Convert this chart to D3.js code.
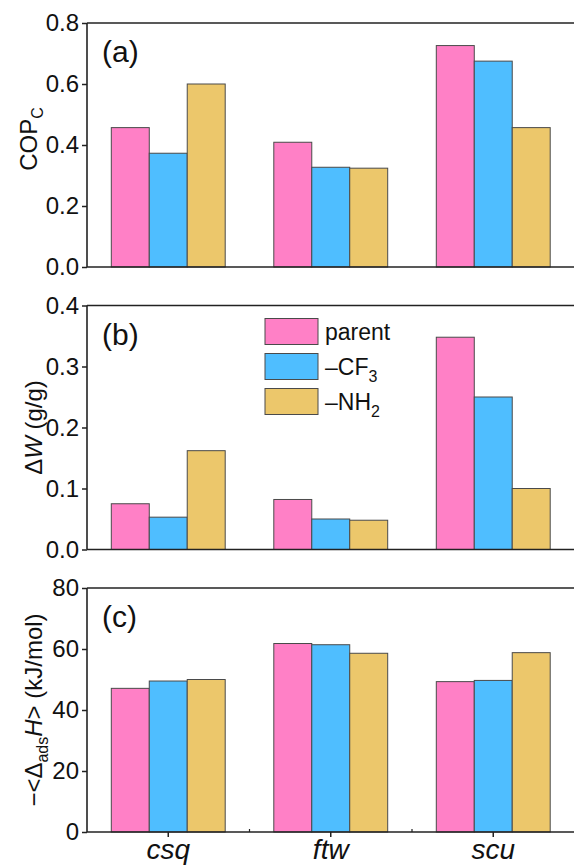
<!DOCTYPE html>
<html>
<head>
<meta charset="utf-8">
<script src="https://cdn.jsdelivr.net/npm/d3@7"></script>
<style>
  html, body { margin: 0; padding: 0; background: #fff; }
  svg { display: block; font-family: "Liberation Sans", Arial, Helvetica, sans-serif; }
</style>
</head>
<body>
<svg id="chart" width="574" height="866"></svg>
<script>
// ---- data ----
const categories = ["csq", "ftw", "scu"];
const seriesNames = ["parent", "CF3", "NH2"];
const colors = ["#FF80C6", "#4FBEFF", "#ECC76B"];

const copParent = [0.457, 0.409, 0.726];
const copCF3    = [0.373, 0.327, 0.675];
const copNH2    = [0.600, 0.324, 0.457];

const dwParent = [0.075, 0.082, 0.348];
const dwCF3    = [0.053, 0.050, 0.250];
const dwNH2    = [0.162, 0.048, 0.100];

const dhParent = [47.1, 61.8, 49.3];
const dhCF3    = [49.5, 61.4, 49.7];
const dhNH2    = [50.0, 58.6, 58.8];

const copTicks = [0, 0.2, 0.4, 0.6, 0.8];
const dwTicks  = [0, 0.1, 0.2, 0.3, 0.4];
const dhTicks  = [0, 20, 40, 60, 80];

// ---- layout ----
const svg = d3.select("#chart");
const left = 87, right = 574.5;
const panelH = 244;
const panelTops = [23, 305.5, 588];
const axisColor = "#222";

const x = d3.scaleBand().domain(categories).range([left, right]).paddingInner(0).paddingOuter(0);
const xs = d3.scaleBand().domain(seriesNames).range([0, x.bandwidth()]).paddingInner(0).paddingOuter(0.64);

const panels = [
  { key: "(a)", data: [copParent, copCF3, copNH2], domain: [0, 0.8], ticks: copTicks, fmt: d3.format(".1f"), labelX: 37, labelShift: -6 },
  { key: "(b)", data: [dwParent, dwCF3, dwNH2], domain: [0, 0.4], ticks: dwTicks, fmt: d3.format(".1f"), labelX: 42, labelShift: 0 },
  { key: "(c)", data: [dhParent, dhCF3, dhNH2], domain: [0, 80], ticks: dhTicks, fmt: d3.format("d"), labelX: 42, labelShift: 0 }
];

panels.forEach((p, pi) => {
  const top = panelTops[pi];
  const y = d3.scaleLinear().domain(p.domain).range([top + panelH, top]);
  const g = svg.append("g");

  // bars
  p.data.forEach((vals, si) => {
    g.selectAll(null)
      .data(vals.map((v, ci) => ({ v, c: categories[ci] })))
      .enter().append("rect")
      .attr("x", d => x(d.c) + xs(seriesNames[si]))
      .attr("y", d => y(d.v))
      .attr("width", xs.bandwidth())
      .attr("height", d => y(0) - y(d.v))
      .attr("fill", colors[si])
      .attr("stroke", "#4a4a4a")
      .attr("stroke-width", 1);
  });

  // left axis
  const ax = d3.axisLeft(y).tickValues(p.ticks).tickFormat(p.fmt).tickSize(5).tickPadding(3);
  const ag = g.append("g").attr("transform", `translate(${left},0)`).call(ax);
  ag.select(".domain").remove();
  ag.selectAll(".tick line").attr("stroke", axisColor).attr("stroke-width", 1.5);
  ag.selectAll(".tick text").attr("fill", "#111").style("font-size", "24px")
    .style("font-family", "'Liberation Sans', Arial, sans-serif");

  // frame lines: left, top, bottom
  g.append("line").attr("x1", left).attr("x2", left).attr("y1", top).attr("y2", top + panelH)
    .attr("stroke", axisColor).attr("stroke-width", 1.6);
  g.append("line").attr("x1", left).attr("x2", 574).attr("y1", top).attr("y2", top)
    .attr("stroke", axisColor).attr("stroke-width", 1.6);
  g.append("line").attr("x1", left).attr("x2", 574).attr("y1", top + panelH).attr("y2", top + panelH)
    .attr("stroke", axisColor).attr("stroke-width", 1.6);

  // panel label
  g.append("text").attr("x", 102).attr("y", top + 39)
    .style("font-size", "30px").attr("fill", "#111").text(p.key);

  // y label
  const lab = g.append("text")
    .attr("transform", `translate(${p.labelX},${top + panelH / 2 + p.labelShift}) rotate(-90)`)
    .attr("text-anchor", "middle").style("font-size", "24px").attr("fill", "#111");
  if (pi === 0) {
    lab.append("tspan").text("COP");
    lab.append("tspan").attr("dy", 6).style("font-size", "16px").text("C");
  } else if (pi === 1) {
    lab.append("tspan").text("\u0394");
    lab.append("tspan").style("font-style", "italic").text("W");
    lab.append("tspan").text(" (g/g)");
  } else {
    lab.append("tspan").text("\u2212<\u0394");
    lab.append("tspan").attr("dy", 6).style("font-size", "16px").text("ads");
    lab.append("tspan").attr("dy", -6).style("font-style", "italic").text("H");
    lab.append("tspan").text("> (kJ/mol)");
  }

  // bottom ticks and category labels on last panel
  if (pi === 2) {
    const base = top + panelH;
    const xa = d3.axisBottom(x).tickSize(5).tickPadding(2);
    const xg = g.append("g").attr("transform", `translate(0,${base})`).call(xa);
    xg.select(".domain").remove();
    xg.selectAll(".tick line").attr("stroke", axisColor).attr("stroke-width", 1.5);
    xg.selectAll(".tick text").attr("fill", "#111").style("font-size", "28px")
      .style("font-style", "italic").style("font-family", "'Liberation Sans', Arial, sans-serif");
    // minor inward ticks at category boundaries
    g.selectAll(null).data(categories.slice(1)).enter().append("line")
      .attr("x1", d => x(d)).attr("x2", d => x(d))
      .attr("y1", base).attr("y2", base - 3)
      .attr("stroke", axisColor).attr("stroke-width", 1.2);
  }
});

// legend (in panel b)
const legendLabels = [["parent", null], ["\u2013CF", "3"], ["\u2013NH", "2"]];
const lg = svg.append("g");
legendLabels.forEach((l, i) => {
  const yy = 318.5 + i * 35;
  lg.append("rect").attr("x", 265).attr("y", yy).attr("width", 53).attr("height", 26)
    .attr("fill", colors[i]).attr("stroke", "#4a4a4a").attr("stroke-width", 1);
  const t = lg.append("text").attr("x", 325).attr("y", yy + 21).style("font-size", "23px").attr("fill", "#111");
  t.append("tspan").text(l[0]);
  if (l[1]) t.append("tspan").attr("dy", 7).style("font-size", "16px").text(l[1]);
});
</script>
</body>
</html>
